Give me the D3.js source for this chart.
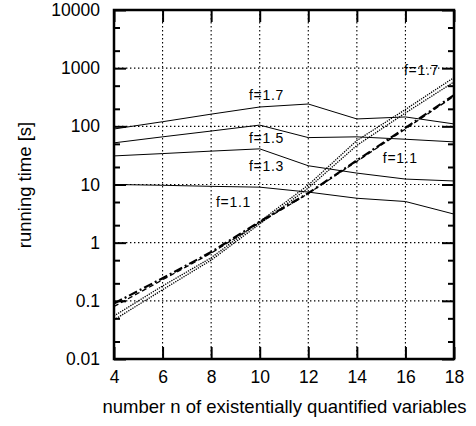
<!DOCTYPE html>
<html>
<head>
<meta charset="utf-8">
<script src="https://cdn.jsdelivr.net/npm/d3@7"></script>
<style>
  body { margin: 0; background: #fff; }
  text { font-family: "Liberation Sans", Arial, Helvetica, sans-serif; fill: #000; }
  .tick text { font-size: 17.5px; }
  .grid line { stroke: #000; stroke-width: 1.1; stroke-dasharray: 1.4,2.6; }
</style>
</head>
<body>
<div id="chart"></div>
<script>
// n values on the x axis
const nValues = [4, 6, 8, 10, 12, 14, 16, 18]

// running times [s] for the fixed-f runs (solid lines)
const f11 = [10, 9.7, 9.3, 9, 7.4, 5.8, 5.1, 3.1]
const f13 = [31, 34, 37.5, 41, 21, 15.7, 12.4, 11.5]
const f15 = [52, 66, 83, 105, 64, 66, 60, 54]
const f17 = [90, 120, 162, 215, 242, 134, 145, 110]

// steeply rising runs (dotted / dashed)
const dotA = [0.055, 0.18, 0.55, 2.3, 9.8, 57, 195, 690]
const dotB = [0.047, 0.155, 0.5, 2.1, 8.7, 47, 170, 580]
const dashA = [0.09, 0.245, 0.69, 2.3, 7.1, 26, 94, 345]
const dashB = [0.08, 0.23, 0.66, 2.2, 7.0, 25, 90, 330]

const xTicks = [4, 6, 8, 10, 12, 14, 16, 18]
const yTicks = [0.01, 0.1, 1, 10, 100, 1000, 10000]

// curve labels: text, n and running time at the label's baseline start
const labelText = ["f=1.7", "f=1.5", "f=1.3", "f=1.1", "f=1.7", "f=1.1"]
const labelN = [9.56, 9.56, 9.56, 8.2, 15.94, 15.07]
const labelV = [284, 52, 17, 4.1, 764, 23.4]

const margin = {top: 10, left: 114, right: 22, bottom: 67}
const width = 476
const height = 426
const chartWidth = width - margin.left - margin.right
const chartHeight = height - margin.top - margin.bottom

const xScale = d3.scaleLinear().domain([4, 18]).range([0, chartWidth])
const yScale = d3.scaleLog().domain([0.01, 10000]).range([chartHeight, 0])

// minor ticks at 2 and 5 of each decade
const yMinor = []
yTicks.slice(0, -1).forEach(d => { yMinor.push(2 * d, 5 * d) })

const svg = d3.select('#chart').append('svg')
  .attr('width', width)
  .attr('height', height)

const g = svg.append('g')
  .attr('transform', `translate(${margin.left}, ${margin.top})`)

// dotted grid
const grid = g.append('g').attr('class', 'grid')
grid.selectAll('.gx')
  .data(xTicks.slice(1, -1))
  .enter().append('line')
  .attr('class', 'gx')
  .attr('x1', d => xScale(d)).attr('x2', d => xScale(d))
  .attr('y1', 0).attr('y2', chartHeight)
grid.selectAll('.gy')
  .data(yTicks.slice(1, -1))
  .enter().append('line')
  .attr('class', 'gy')
  .attr('x1', 0).attr('x2', chartWidth)
  .attr('y1', d => yScale(d)).attr('y2', d => yScale(d))

const line = d3.line()
  .x((d, i) => xScale(nValues[i]))
  .y(d => yScale(d))

const lines = g.append('g').attr('class', 'lines')
  .attr('fill', 'none')
  .attr('stroke', '#000')

lines.selectAll('.solid')
  .data([f11, f13, f15, f17])
  .enter().append('path')
  .attr('class', 'solid')
  .attr('d', line)
  .attr('stroke-width', 1)

lines.selectAll('.dotted')
  .data([dotA, dotB])
  .enter().append('path')
  .attr('class', 'dotted')
  .attr('d', line)
  .attr('stroke-width', 1.3)
  .attr('stroke-dasharray', '1.3,1.1')

lines.append('path')
  .datum(dashB)
  .attr('d', line)
  .attr('stroke-width', 1.3)
  .attr('stroke-dasharray', '5,3')

lines.append('path')
  .datum(dashA)
  .attr('d', line)
  .attr('stroke-width', 2.2)
  .attr('stroke-dasharray', '9,3,2,3')

// curve labels
g.append('g').attr('class', 'labels')
  .selectAll('text')
  .data(labelText)
  .enter().append('text')
  .attr('x', (d, i) => xScale(labelN[i]))
  .attr('y', (d, i) => yScale(labelV[i]))
  .style('font-size', '14px')
  .style('letter-spacing', '0.7px')
  .text(d => d)

// axes: ticks point inward, frame drawn separately
const fmt = d => d < 1 ? String(d) : d3.format('d')(d)

function styleAxis(sel) {
  sel.select('.domain').remove()
  sel.selectAll('.tick line').attr('stroke', '#000').attr('stroke-width', 2)
}

g.append('g')
  .attr('transform', `translate(0, ${chartHeight})`)
  .call(d3.axisBottom(xScale).tickValues(xTicks).tickSize(-12).tickSizeOuter(0).tickPadding(11.5))
  .call(styleAxis)
g.append('g')
  .call(d3.axisTop(xScale).tickValues(xTicks).tickSize(-12).tickSizeOuter(0).tickFormat(''))
  .call(styleAxis)

g.append('g')
  .call(d3.axisLeft(yScale).tickValues(yTicks).tickFormat(fmt).tickSize(-12).tickSizeOuter(0).tickPadding(14))
  .call(styleAxis)
g.append('g')
  .call(d3.axisLeft(yScale).tickValues(yMinor).tickFormat('').tickSize(-6).tickSizeOuter(0))
  .call(styleAxis)
g.append('g')
  .attr('transform', `translate(${chartWidth}, 0)`)
  .call(d3.axisRight(yScale).tickValues(yTicks).tickFormat('').tickSize(-12).tickSizeOuter(0))
  .call(styleAxis)
g.append('g')
  .attr('transform', `translate(${chartWidth}, 0)`)
  .call(d3.axisRight(yScale).tickValues(yMinor).tickFormat('').tickSize(-6).tickSizeOuter(0))
  .call(styleAxis)

g.selectAll('.tick text').style('font-size', '17.5px').attr('fill', '#000')

g.append('rect')
  .attr('width', chartWidth)
  .attr('height', chartHeight)
  .attr('fill', 'none')
  .attr('stroke', '#000')
  .attr('stroke-width', 2.5)

// axis titles
svg.append('text')
  .attr('x', 284.5)
  .attr('y', 413)
  .attr('text-anchor', 'middle')
  .style('font-size', '18.5px')
  .text('number n of existentially quantified variables')

svg.append('text')
  .attr('transform', 'translate(31, 185) rotate(-90)')
  .attr('text-anchor', 'middle')
  .style('font-size', '18.5px')
  .text('running time [s]')
</script>
</body>
</html>
